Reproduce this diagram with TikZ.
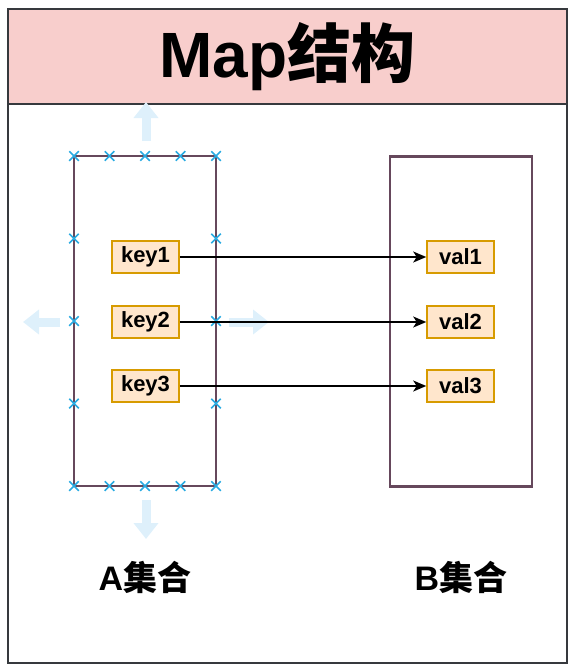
\documentclass[tikz,border=0pt]{standalone}
\usepackage{fontspec}
\setmainfont{Liberation Sans}
\newfontfamily\cjk{Noto Sans CJK SC}
\usetikzlibrary{arrows.meta,positioning,shapes.misc}
\usepackage{xcolor}
\definecolor{mpink}{RGB}{248,206,204}
\definecolor{mframe}{RGB}{54,57,61}
\definecolor{mplum}{RGB}{102,72,92}
\definecolor{mfill}{RGB}{255,230,204}
\definecolor{mgold}{RGB}{215,155,0}
\definecolor{mhandle}{RGB}{41,171,226}
\definecolor{mghost}{RGB}{222,240,251}
\tikzset{
    setbox/.style={
        draw=mplum,line width=2.2pt,minimum width=142pt,minimum height=330pt
    },
    entry/.style={
        draw=mgold,line width=1.6pt,fill=mfill,minimum width=67pt,minimum height=32pt,
        inner sep=0pt,font=\fontsize{22}{22}\selectfont\bfseries
    },
    handle/.style={
        cross out,draw=mhandle,line width=1.5pt,minimum size=8pt,inner sep=0pt
    },
    ghost/.style={
        draw=mghost,line width=9pt,-{Triangle[length=16pt,width=24pt]}
    },
    link/.style={
        -{Stealth[length=13pt,width=11pt,inset=3.5pt]},line width=1.6pt,draw=black
    },
    setlabel/.style={
        font=\fontsize{34}{34}\selectfont\bfseries
    }
}

\begin{document}
\begin{tikzpicture}[x=1pt,y=-1pt]
\useasboundingbox (0,0) rectangle (575,669);

% frame and title
\draw[mframe,line width=2pt] (8,9) rectangle (567,663);
\node[draw=mframe,line width=2pt,fill=mpink,minimum width=559pt,minimum height=95pt,
      inner sep=0pt,font=\fontsize{64}{64}\selectfont\bfseries]
    (title) at (287.5,56.5) {Map{\cjk 结构}};

% the two sets
\node[setbox] (setA) at (145,321) {};
\node[setbox] (setB) at (461,321.5) {};

% drag hints round set A
\draw[ghost] (146,141) -- (146,102);
\draw[ghost] (146,500) -- (146,539);
\draw[ghost] (60,322) -- (23,322);
\draw[ghost] (229,322) -- (269,322);

% selection handles
\foreach \x [count=\i] in {74,109.5,145,180.5,216} {
    \node[handle] (top\i) at (\x,156) {};
    \node[handle] (bot\i) at (\x,486) {};
}
\foreach \y [count=\i] in {238.5,321,403.5} {
    \node[handle] (lft\i) at (74,\y) {};
    \node[handle] (rgt\i) at (216,\y) {};
}

% keys and values
\foreach \n/\y in {1/257,2/322,3/386} {
    \node[entry] (key\n) at (145.5,\y) {key\n};
    \node[entry] (val\n) at (460.5,\y) {val\n};
    \draw[link] (key\n) -- (val\n);
}

\node[setlabel] (labA) at (145,577) {A{\cjk 集合}};
\node[setlabel] (labB) at (461,577) {B{\cjk 集合}};

\end{tikzpicture}
\end{document}
